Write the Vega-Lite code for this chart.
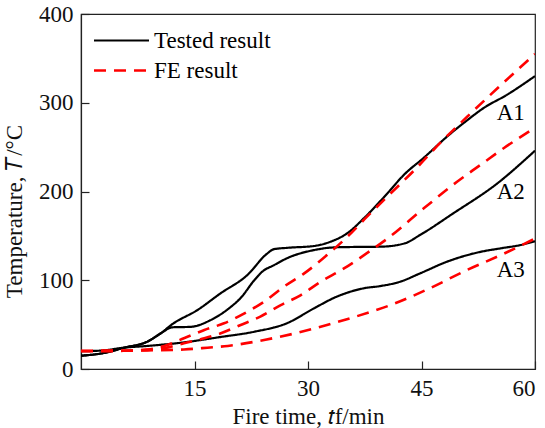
{
  "$schema": "https://vega.github.io/schema/vega-lite/v6.json",
  "autosize": "none",
  "width": 454,
  "height": 355,
  "padding": {"left": 81, "top": 14, "right": 10, "bottom": 59},
  "background": "white",
  "datasets": {
    "curves": [
      {"series": "A1", "kind": "Tested result", "t": 0, "T": 15},
      {"series": "A1", "kind": "Tested result", "t": 3, "T": 18},
      {"series": "A1", "kind": "Tested result", "t": 5.7, "T": 24},
      {"series": "A1", "kind": "Tested result", "t": 8.8, "T": 31},
      {"series": "A1", "kind": "Tested result", "t": 10.5, "T": 40},
      {"series": "A1", "kind": "Tested result", "t": 12.1, "T": 50.7},
      {"series": "A1", "kind": "Tested result", "t": 15.4, "T": 66.5},
      {"series": "A1", "kind": "Tested result", "t": 18.4, "T": 85},
      {"series": "A1", "kind": "Tested result", "t": 22, "T": 106},
      {"series": "A1", "kind": "Tested result", "t": 24.6, "T": 130},
      {"series": "A1", "kind": "Tested result", "t": 25.5, "T": 135},
      {"series": "A1", "kind": "Tested result", "t": 27.2, "T": 136.5},
      {"series": "A1", "kind": "Tested result", "t": 30.8, "T": 138.6},
      {"series": "A1", "kind": "Tested result", "t": 33, "T": 143.5},
      {"series": "A1", "kind": "Tested result", "t": 35.2, "T": 153},
      {"series": "A1", "kind": "Tested result", "t": 37.4, "T": 170},
      {"series": "A1", "kind": "Tested result", "t": 40.5, "T": 198},
      {"series": "A1", "kind": "Tested result", "t": 42.7, "T": 219},
      {"series": "A1", "kind": "Tested result", "t": 45.3, "T": 238},
      {"series": "A1", "kind": "Tested result", "t": 48.8, "T": 265},
      {"series": "A1", "kind": "Tested result", "t": 51, "T": 280},
      {"series": "A1", "kind": "Tested result", "t": 53.2, "T": 294},
      {"series": "A1", "kind": "Tested result", "t": 56.3, "T": 309},
      {"series": "A1", "kind": "Tested result", "t": 60, "T": 330},
      {"series": "A2", "kind": "Tested result", "t": 0, "T": 15},
      {"series": "A2", "kind": "Tested result", "t": 3, "T": 18},
      {"series": "A2", "kind": "Tested result", "t": 5.7, "T": 24},
      {"series": "A2", "kind": "Tested result", "t": 8.8, "T": 31},
      {"series": "A2", "kind": "Tested result", "t": 10.5, "T": 40},
      {"series": "A2", "kind": "Tested result", "t": 12.1, "T": 47},
      {"series": "A2", "kind": "Tested result", "t": 14.5, "T": 47.5},
      {"series": "A2", "kind": "Tested result", "t": 17.1, "T": 55},
      {"series": "A2", "kind": "Tested result", "t": 19.8, "T": 70},
      {"series": "A2", "kind": "Tested result", "t": 21.1, "T": 80},
      {"series": "A2", "kind": "Tested result", "t": 22.9, "T": 100},
      {"series": "A2", "kind": "Tested result", "t": 24, "T": 110},
      {"series": "A2", "kind": "Tested result", "t": 25.5, "T": 117},
      {"series": "A2", "kind": "Tested result", "t": 27.2, "T": 124.7},
      {"series": "A2", "kind": "Tested result", "t": 30.8, "T": 134},
      {"series": "A2", "kind": "Tested result", "t": 33.4, "T": 137},
      {"series": "A2", "kind": "Tested result", "t": 36, "T": 137.5},
      {"series": "A2", "kind": "Tested result", "t": 39.6, "T": 137.8},
      {"series": "A2", "kind": "Tested result", "t": 42.8, "T": 141.6},
      {"series": "A2", "kind": "Tested result", "t": 44.8, "T": 151},
      {"series": "A2", "kind": "Tested result", "t": 49.2, "T": 175.4},
      {"series": "A2", "kind": "Tested result", "t": 55, "T": 209},
      {"series": "A2", "kind": "Tested result", "t": 60, "T": 246},
      {"series": "A3", "kind": "Tested result", "t": 0, "T": 20},
      {"series": "A3", "kind": "Tested result", "t": 3, "T": 21},
      {"series": "A3", "kind": "Tested result", "t": 5.6, "T": 24},
      {"series": "A3", "kind": "Tested result", "t": 8.8, "T": 26},
      {"series": "A3", "kind": "Tested result", "t": 13.2, "T": 29.6},
      {"series": "A3", "kind": "Tested result", "t": 18.4, "T": 36},
      {"series": "A3", "kind": "Tested result", "t": 22.9, "T": 42},
      {"series": "A3", "kind": "Tested result", "t": 27.2, "T": 51.5},
      {"series": "A3", "kind": "Tested result", "t": 30.8, "T": 68.4},
      {"series": "A3", "kind": "Tested result", "t": 33.8, "T": 81.5},
      {"series": "A3", "kind": "Tested result", "t": 37.4, "T": 91},
      {"series": "A3", "kind": "Tested result", "t": 39.6, "T": 93.5},
      {"series": "A3", "kind": "Tested result", "t": 42.2, "T": 98.4},
      {"series": "A3", "kind": "Tested result", "t": 44.8, "T": 107.7},
      {"series": "A3", "kind": "Tested result", "t": 48.4, "T": 121},
      {"series": "A3", "kind": "Tested result", "t": 52.8, "T": 132},
      {"series": "A3", "kind": "Tested result", "t": 55.5, "T": 136},
      {"series": "A3", "kind": "Tested result", "t": 58.1, "T": 139.7},
      {"series": "A3", "kind": "Tested result", "t": 60, "T": 144},
      {"series": "A1", "kind": "FE result", "t": 0, "T": 20.3},
      {"series": "A1", "kind": "FE result", "t": 5.6, "T": 20.6},
      {"series": "A1", "kind": "FE result", "t": 8.8, "T": 22},
      {"series": "A1", "kind": "FE result", "t": 11, "T": 26},
      {"series": "A1", "kind": "FE result", "t": 13.6, "T": 34.6},
      {"series": "A1", "kind": "FE result", "t": 16.3, "T": 44},
      {"series": "A1", "kind": "FE result", "t": 18.9, "T": 51.5},
      {"series": "A1", "kind": "FE result", "t": 21.6, "T": 62.7},
      {"series": "A1", "kind": "FE result", "t": 24.2, "T": 75.8},
      {"series": "A1", "kind": "FE result", "t": 26.8, "T": 92.7},
      {"series": "A1", "kind": "FE result", "t": 29.5, "T": 107.7},
      {"series": "A1", "kind": "FE result", "t": 33, "T": 132},
      {"series": "A1", "kind": "FE result", "t": 35.2, "T": 149},
      {"series": "A1", "kind": "FE result", "t": 37.8, "T": 171.6},
      {"series": "A1", "kind": "FE result", "t": 40.7, "T": 196},
      {"series": "A1", "kind": "FE result", "t": 44.4, "T": 227},
      {"series": "A1", "kind": "FE result", "t": 47.5, "T": 255},
      {"series": "A1", "kind": "FE result", "t": 51, "T": 284},
      {"series": "A1", "kind": "FE result", "t": 55, "T": 316},
      {"series": "A1", "kind": "FE result", "t": 60, "T": 355},
      {"series": "A2", "kind": "FE result", "t": 0, "T": 20.3},
      {"series": "A2", "kind": "FE result", "t": 5.6, "T": 20.6},
      {"series": "A2", "kind": "FE result", "t": 8.8, "T": 21.5},
      {"series": "A2", "kind": "FE result", "t": 11, "T": 23.5},
      {"series": "A2", "kind": "FE result", "t": 13.6, "T": 29},
      {"series": "A2", "kind": "FE result", "t": 16.3, "T": 34.6},
      {"series": "A2", "kind": "FE result", "t": 18.4, "T": 40},
      {"series": "A2", "kind": "FE result", "t": 21.1, "T": 49.6},
      {"series": "A2", "kind": "FE result", "t": 23.7, "T": 59},
      {"series": "A2", "kind": "FE result", "t": 26.4, "T": 72},
      {"series": "A2", "kind": "FE result", "t": 29, "T": 83},
      {"series": "A2", "kind": "FE result", "t": 31.6, "T": 98},
      {"series": "A2", "kind": "FE result", "t": 34.7, "T": 113},
      {"series": "A2", "kind": "FE result", "t": 38.2, "T": 133},
      {"series": "A2", "kind": "FE result", "t": 40.5, "T": 147},
      {"series": "A2", "kind": "FE result", "t": 45.3, "T": 181},
      {"series": "A2", "kind": "FE result", "t": 49.7, "T": 211},
      {"series": "A2", "kind": "FE result", "t": 52.8, "T": 230},
      {"series": "A2", "kind": "FE result", "t": 55.9, "T": 249},
      {"series": "A2", "kind": "FE result", "t": 60, "T": 272},
      {"series": "A3", "kind": "FE result", "t": 0, "T": 20.3},
      {"series": "A3", "kind": "FE result", "t": 5.6, "T": 20.5},
      {"series": "A3", "kind": "FE result", "t": 8.8, "T": 21},
      {"series": "A3", "kind": "FE result", "t": 13.6, "T": 22},
      {"series": "A3", "kind": "FE result", "t": 16.7, "T": 24},
      {"series": "A3", "kind": "FE result", "t": 19.4, "T": 26},
      {"series": "A3", "kind": "FE result", "t": 24.2, "T": 32.7},
      {"series": "A3", "kind": "FE result", "t": 28.2, "T": 40},
      {"series": "A3", "kind": "FE result", "t": 32.5, "T": 49.6},
      {"series": "A3", "kind": "FE result", "t": 38.5, "T": 65},
      {"series": "A3", "kind": "FE result", "t": 40.9, "T": 72},
      {"series": "A3", "kind": "FE result", "t": 46.1, "T": 91},
      {"series": "A3", "kind": "FE result", "t": 51, "T": 111.5},
      {"series": "A3", "kind": "FE result", "t": 55.9, "T": 130},
      {"series": "A3", "kind": "FE result", "t": 60, "T": 147}
    ],
    "labels": [
      {"label": "A1", "t": 56.8, "T": 289},
      {"label": "A2", "t": 56.8, "T": 200},
      {"label": "A3", "t": 56.8, "T": 111.5}
    ]
  },
  "layer": [
    {
      "data": {"name": "curves"},
      "mark": {"type": "line", "interpolate": "monotone", "clip": true},
      "encoding": {
        "x": {
          "field": "t", "type": "quantitative",
          "scale": {"domain": [0, 60], "nice": false},
          "axis": {"values": [15, 30, 45, 60], "title": "Fire time, 𝑡f/min", "tickSize": -8, "labelPadding": 16, "titlePadding": 5}
        },
        "y": {
          "field": "T", "type": "quantitative",
          "scale": {"domain": [0, 400], "nice": false},
          "axis": {"values": [0, 100, 200, 300, 400], "title": "Temperature, 𝑇/°C", "tickSize": -8, "labelPadding": 16, "titleX": -55, "titleY": 197, "titleBaseline": "bottom"}
        },
        "color": {
          "field": "kind", "type": "nominal",
          "scale": {"domain": ["Tested result", "FE result"], "range": ["#000000", "#ff0000"]},
          "legend": {
            "title": null, "orient": "none", "legendX": 29, "legendY": 15,
            "symbolType": "M-3,0H3", "symbolSize": 336, "symbolStrokeWidth": 2.5,
            "labelFont": "Liberation Serif", "labelFontSize": 23, "labelColor": "#000",
            "labelOffset": 21, "rowPadding": 6, "padding": 0
          }
        },
        "strokeDash": {
          "field": "kind", "type": "nominal",
          "scale": {"domain": ["Tested result", "FE result"], "range": [[1, 0], [12, 8]]},
          "legend": {
            "title": null, "orient": "none", "legendX": 29, "legendY": 15,
            "symbolType": "M-3,0H3", "symbolSize": 336, "symbolStrokeWidth": 2.5,
            "labelFont": "Liberation Serif", "labelFontSize": 23, "labelColor": "#000",
            "labelOffset": 21, "rowPadding": 6, "padding": 0
          }
        },
        "strokeWidth": {
          "field": "kind", "type": "nominal",
          "scale": {"domain": ["Tested result", "FE result"], "range": [2.2, 2.6]},
          "legend": null
        },
        "detail": {"field": "series"}
      }
    },
    {
      "data": {"name": "labels"},
      "mark": {"type": "text", "font": "Liberation Serif", "fontSize": 23, "color": "#000", "align": "center", "baseline": "middle"},
      "encoding": {
        "x": {"field": "t", "type": "quantitative"},
        "y": {"field": "T", "type": "quantitative"},
        "text": {"field": "label"}
      }
    }
  ],
  "config": {
    "view": {"stroke": "#222", "strokeWidth": 1.2},
    "axis": {
      "grid": false, "domainColor": "#222", "tickColor": "#222", "domainWidth": 1.2, "tickWidth": 1.2,
      "labelFont": "Liberation Serif", "titleFont": "Liberation Serif",
      "labelFontSize": 23, "titleFontSize": 23, "titleFontWeight": "normal",
      "labelColor": "#111", "titleColor": "#111"
    }
  }
}
